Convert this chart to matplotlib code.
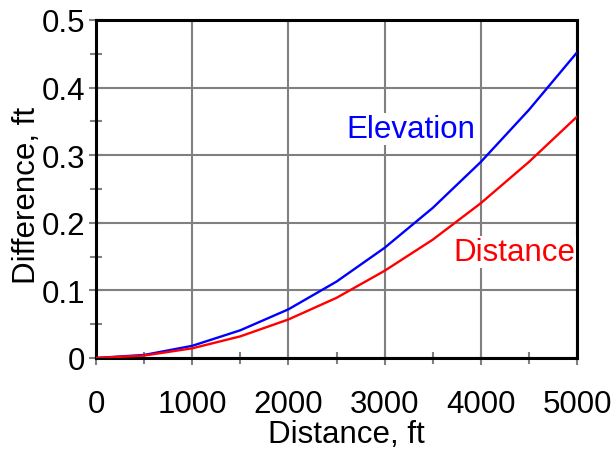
import matplotlib
matplotlib.use('Agg')
import matplotlib.pyplot as plt
from matplotlib.ticker import MultipleLocator

plt.rcParams['font.family'] = ['Liberation Sans', 'DejaVu Sans']

distance_ft = [0, 500, 1000, 1500, 2000, 2500, 3000, 3500, 4000, 4500, 5000]
elevation_diff = [0, 0.0045, 0.018, 0.041, 0.072, 0.113, 0.163, 0.222, 0.290, 0.367, 0.452]
distance_diff = [0, 0.0036, 0.0143, 0.032, 0.057, 0.089, 0.129, 0.175, 0.229, 0.290, 0.357]
ytick_vals = [0, 0.1, 0.2, 0.3, 0.4, 0.5]
ytick_text = ['0', '0.1', '0.2', '0.3', '0.4', '0.5']

fs = 22.5

fig = plt.figure(figsize=(6.14, 4.52), dpi=100)
ax = fig.add_axes([96/614, 1-359/452, (577-96)/614, (359-21)/452])

ax.plot(distance_ft, elevation_diff, color='#0000ff', lw=1.7, zorder=3)
ax.plot(distance_ft, distance_diff, color='#ff0000', lw=1.7, zorder=3)

ax.set_xlim(0, 5000)
ax.set_ylim(0, 0.5)
ax.xaxis.set_major_locator(MultipleLocator(1000))
ax.xaxis.set_minor_locator(MultipleLocator(500))
ax.set_yticks(ytick_vals)
ax.set_yticklabels(ytick_text)
ax.yaxis.set_minor_locator(MultipleLocator(0.05))

ax.grid(True, which='major', color='#808080', lw=1.5)
ax.set_axisbelow(True)
ax.tick_params(which='both', direction='inout', color='#808080', width=1.5, labelsize=fs)
ax.tick_params(which='major', length=10)
ax.tick_params(which='minor', length=9)
ax.tick_params(axis='y', which='major', pad=3)
ax.tick_params(axis='x', which='major', pad=17)
for s in ax.spines.values():
    s.set_linewidth(2.2)
    s.set_color('black')

ax.set_xlabel('Distance, ft', fontsize=fs, va='center')
ax.xaxis.set_label_coords(0.521, -0.226)
ax.set_ylabel('Difference, ft', fontsize=fs, va='center')
ax.yaxis.set_label_coords(-0.143, 0.485)

ax.text(3274, 0.339, 'Elevation', fontsize=fs, color='#0000ff', ha='center', va='center',
        bbox=dict(facecolor='white', edgecolor='none', pad=1))
ax.text(4345, 0.157, 'Distance', fontsize=fs, color='#ff0000', ha='center', va='center',
        bbox=dict(facecolor='white', edgecolor='none', pad=1))

fig.savefig('out.png', dpi=100)
